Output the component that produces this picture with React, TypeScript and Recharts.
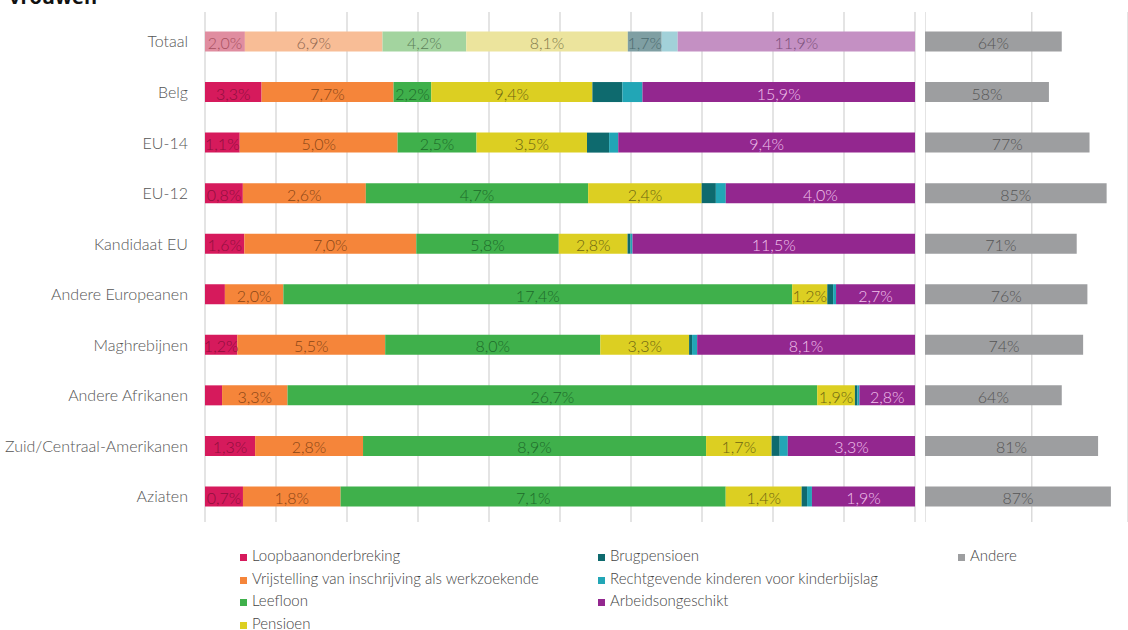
import { Bar, BarChart, CartesianGrid, Cell, LabelList, XAxis, YAxis } from "recharts";

const categories = [
  "Totaal",
  "Belg",
  "EU-14",
  "EU-12",
  "Kandidaat EU",
  "Andere Europeanen",
  "Maghrebijnen",
  "Andere Afrikanen",
  "Zuid/Centraal-Amerikanen",
  "Aziaten",
];

// percentages per groep (kleine, ongelabelde stukken geschat)
const loopbaan = [2.0, 3.3, 1.1, 0.8, 1.6, 0.68, 1.2, 0.86, 1.3, 0.7];
const vrijstelling = [6.9, 7.7, 5.0, 2.6, 7.0, 2.0, 5.5, 3.3, 2.8, 1.8];
const leefloon = [4.2, 2.2, 2.5, 4.7, 5.8, 17.4, 8.0, 26.7, 8.9, 7.1];
const pensioen = [8.1, 9.4, 3.5, 2.4, 2.8, 1.2, 3.3, 1.9, 1.7, 1.4];
const brugpensioen = [1.7, 1.75, 0.7, 0.3, 0.12, 0.2, 0.11, 0.13, 0.21, 0.1];
const kinderbijslag = [0.8, 1.17, 0.29, 0.21, 0.08, 0.1, 0.19, 0.1, 0.21, 0.09];
const arbeidsongeschikt = [11.9, 15.9, 9.4, 4.0, 11.5, 2.7, 8.1, 2.8, 3.3, 1.9];
const andere = [64, 58, 77, 85, 71, 76, 74, 64, 81, 87];

const gridTicks = [0, 0.1, 0.2, 0.3, 0.4, 0.5, 0.6, 0.7, 0.8, 0.9, 1];

const series = [
  { key: "loopbaan", name: "Loopbaanonderbreking", values: loopbaan, color: "#d61a5c", light: "#e08da0", text: "#8e0f3d", lightText: "#a8505f" },
  { key: "vrijstelling", name: "Vrijstelling van inschrijving als werkzoekende", values: vrijstelling, color: "#f5853a", light: "#f8bd96", text: "#8a4516", lightText: "#8e6650" },
  { key: "leefloon", name: "Leefloon", values: leefloon, color: "#3fb04b", light: "#a3d49f", text: "#1e6a2a", lightText: "#5b7e58" },
  { key: "pensioen", name: "Pensioen", values: pensioen, color: "#dccf22", light: "#ece49d", text: "#6d6512", lightText: "#807a4a" },
  { key: "brugpensioen", name: "Brugpensioen", values: brugpensioen, color: "#0e6a6e", light: "#7f9fa3", text: "#0b4547", lightText: "#4d6c70" },
  { key: "kinderbijslag", name: "Rechtgevende kinderen voor kinderbijslag", values: kinderbijslag, color: "#22a6b6", light: "#a2d1d9", text: "#0f5c66", lightText: "#55848a" },
  { key: "arbeid", name: "Arbeidsongeschikt", values: arbeidsongeschikt, color: "#93278f", light: "#c490c3", text: "#f0c2ec", lightText: "#7a4f79" },
];

const ANDERE_COLOR = "#9d9ea0";

const rows = categories.map((cat, i) => {
  const row: Record<string, string | number> = { cat, andere: andere[i] };
  series.forEach((s) => (row[s.key] = s.values[i]));
  return row;
});

const font = "Lato, 'Open Sans', sans-serif";
const fmt = (v: number) => v.toFixed(1).replace(".", ",") + "%";

const makeLabel = (s: (typeof series)[number]) => (props: any) => {
  const { x, y, width, height, value, index } = props;
  if (width < 32) return null;
  return (
    <text
      x={x + width / 2}
      y={y + height / 2 + 1}
      textAnchor="middle"
      dominantBaseline="central"
      fontSize={16}
      fontFamily={font}
      fontWeight={300}
      fill={index === 0 ? s.lightText : s.text}
    >
      {fmt(Number(value))}
    </text>
  );
};

const legendColumns = [
  { left: 240, items: series.slice(0, 4).map((s) => ({ name: s.name, color: s.color })) },
  { left: 598, items: series.slice(4).map((s) => ({ name: s.name, color: s.color })) },
  { left: 958, items: [{ name: "Andere", color: ANDERE_COLOR }] },
];

export default function App() {
  return (
    <div style={{ position: "absolute", left: 0, top: 0, width: 1128, height: 630, background: "#fff", overflow: "hidden", fontFamily: font }}>
      <div style={{ position: "absolute", left: 9, top: -17, fontSize: 20, fontWeight: 700, color: "#111", fontFamily: "'Open Sans', sans-serif" }}>
        vrouwen
      </div>

      <div style={{ position: "absolute", left: 0, top: 0 }}>
        <BarChart
          width={930}
          height={540}
          data={rows}
          layout="vertical"
          stackOffset="expand"
          margin={{ top: 12, right: 15, bottom: 18, left: 0 }}
          barSize={20}
        >
          <CartesianGrid horizontal={false} stroke="#c9c9c9" />
          <XAxis type="number" domain={[0, 1]} ticks={gridTicks} hide />
          <YAxis
            type="category"
            dataKey="cat"
            width={205}
            axisLine={false}
            tickLine={false}
            tickMargin={11}
            padding={{ top: 4.5, bottom: 0 }}
            interval={0}
            tick={{ fontSize: 16, fill: "#555", fontFamily: font, fontWeight: 300 }}
          />
          {series.map((s) => (
            <Bar key={s.key} dataKey={s.key} stackId="a" fill={s.color} isAnimationActive={false}>
              {rows.map((_, i) => (
                <Cell key={i} fill={i === 0 ? s.light : s.color} />
              ))}
              <LabelList dataKey={s.key} content={makeLabel(s)} />
            </Bar>
          ))}
        </BarChart>
      </div>

      <div style={{ position: "absolute", left: 925, top: 0 }}>
        <BarChart
          width={203}
          height={540}
          data={rows}
          layout="vertical"
          margin={{ top: 12, right: 0, bottom: 18, left: 0 }}
          barSize={20}
        >
          <CartesianGrid horizontal={false} stroke="#c9c9c9" />
          <XAxis type="number" domain={[0, 95]} ticks={[0, 50]} hide allowDataOverflow />
          <YAxis type="category" dataKey="cat" hide padding={{ top: 4.5, bottom: 0 }} />
          <Bar dataKey="andere" fill={ANDERE_COLOR} isAnimationActive={false}>
            <LabelList
              dataKey="andere"
              content={(p: any) => (
                <text
                  x={p.x + p.width / 2}
                  y={p.y + p.height / 2 + 1}
                  textAnchor="middle"
                  dominantBaseline="central"
                  fontSize={16}
                  fontFamily={font}
                  fontWeight={300}
                  fill="#555"
                >
                  {p.value}%
                </text>
              )}
            />
          </Bar>
        </BarChart>
      </div>

      {legendColumns.map((col, ci) => (
        <div key={ci} style={{ position: "absolute", left: col.left, top: 544 }}>
          {col.items.map((it) => (
            <div key={it.name} style={{ height: 22.6, lineHeight: "22.6px", fontSize: 15, color: "#444", fontWeight: 300, whiteSpace: "nowrap" }}>
              <span style={{ display: "inline-block", width: 7, height: 7, background: it.color, marginRight: 5, verticalAlign: "baseline" }} />
              {it.name}
            </div>
          ))}
        </div>
      ))}
    </div>
  );
}
